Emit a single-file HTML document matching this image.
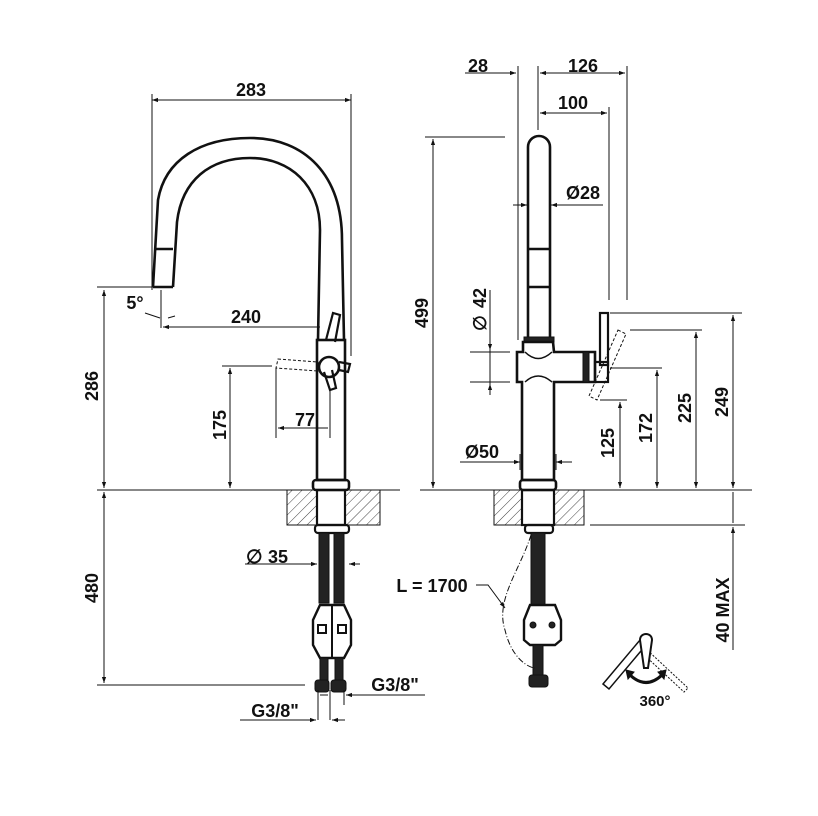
<!DOCTYPE html>
<html><head><meta charset="utf-8"><style>
html,body{margin:0;padding:0;background:#fff}
svg{display:block}
text{font-family:"Liberation Sans",Arial,sans-serif;font-weight:bold;fill:#111}
</style></head><body>
<svg width="818" height="816" viewBox="0 0 818 816" xmlns="http://www.w3.org/2000/svg">
<defs>
<marker id="a" viewBox="0 0 10 10" refX="10" refY="5" markerWidth="9" markerHeight="6" orient="auto-start-reverse"><path d="M0,1.5 L10,5 L0,8.5 z" fill="#111"/></marker>
<pattern id="h" width="7" height="7" patternUnits="userSpaceOnUse" patternTransform="rotate(45)"><line x1="0" y1="0" x2="0" y2="7" stroke="#111" stroke-width="0.8"/></pattern>
</defs>
<g stroke="#111" fill="none" stroke-width="1">
<!-- ===== LEFT VIEW ===== -->
<line x1="152" y1="94" x2="152" y2="290"/>
<line x1="351" y1="94" x2="351" y2="356"/>
<line x1="152" y1="100" x2="351" y2="100" marker-start="url(#a)" marker-end="url(#a)"/>
<path d="M153,287 L158,200 C165,160 200,138 250,138 C305,138 342,175 342,240 L344,340" stroke-width="2.6"/>
<path d="M173,287 L177,222 C182,180 210,158 250,158 C290,158 320,185 320,230 L318,340" stroke-width="2.6"/>
<line x1="155" y1="249" x2="173" y2="249" stroke-width="2.6"/>
<line x1="153" y1="287" x2="173" y2="287" stroke-width="2.6"/>
<rect x="317" y="340" width="28" height="140" stroke-width="2.6"/>
<rect x="313" y="480" width="36" height="10" rx="3" stroke-width="2.6"/>
<path d="M326,340 L333,313 L340,315 L335,342" stroke-width="2.2"/>
<circle cx="329" cy="367" r="10" stroke-width="2.6"/>
<path d="M324,372 L330,390 L336,388 L332,370" stroke-width="2.2"/>
<path d="M339,362 L350,364 L348,372 L339,370" stroke-width="2.2"/>
<path d="M278,359 L318,362 L318,371 L276,368 z" stroke-dasharray="3,2"/>
<line x1="97" y1="287" x2="160" y2="287"/>
<line x1="104" y1="290" x2="104" y2="488" marker-start="url(#a)" marker-end="url(#a)"/>
<line x1="161" y1="290" x2="161" y2="328"/>
<line x1="163" y1="327" x2="320" y2="327" marker-start="url(#a)"/>
<line x1="145" y1="313" x2="160" y2="318"/>
<line x1="175" y1="316" x2="168" y2="318"/>
<line x1="222" y1="366" x2="272" y2="366"/>
<line x1="230" y1="368" x2="230" y2="488" marker-start="url(#a)" marker-end="url(#a)"/>
<line x1="276" y1="368" x2="276" y2="438"/>
<line x1="330" y1="388" x2="330" y2="438"/>
<line x1="278" y1="428" x2="328" y2="428" marker-start="url(#a)"/>
<line x1="97" y1="490" x2="400" y2="490"/>
<rect x="287" y="490" width="30" height="35" fill="url(#h)"/>
<rect x="345" y="490" width="35" height="35" fill="url(#h)"/>
<rect x="317" y="490" width="28" height="35" stroke-width="2.2"/>
<rect x="315" y="525" width="34" height="8" rx="3" stroke-width="2.2"/>
<rect x="319" y="533" width="10" height="70" fill="#222"/>
<rect x="334" y="533" width="10" height="70" fill="#222"/>
<path d="M320,605 L344,605 L351,620 L351,645 L344,658 L320,658 L313,645 L313,620 z" stroke-width="2.4" fill="#fff"/>
<line x1="332" y1="605" x2="332" y2="658" stroke-width="2"/>
<rect x="318" y="625" width="8" height="8" stroke-width="2"/>
<rect x="338" y="625" width="8" height="8" stroke-width="2"/>
<rect x="320" y="658" width="8" height="22" fill="#222"/>
<rect x="335" y="658" width="8" height="22" fill="#222"/>
<rect x="315" y="680" width="14" height="12" rx="3" fill="#222"/>
<rect x="331" y="680" width="15" height="12" rx="3" fill="#222"/>
<line x1="245" y1="564" x2="317" y2="564" marker-end="url(#a)"/>
<line x1="360" y1="564" x2="349" y2="564" marker-end="url(#a)"/>
<line x1="97" y1="685" x2="305" y2="685"/>
<line x1="104" y1="492" x2="104" y2="683" marker-start="url(#a)" marker-end="url(#a)"/>
<line x1="318" y1="690" x2="318" y2="720"/><line x1="330" y1="690" x2="330" y2="720"/><line x1="344" y1="690" x2="344" y2="705"/>
<line x1="360" y1="695" x2="346" y2="695" marker-end="url(#a)"/>
<line x1="360" y1="695" x2="425" y2="695"/>
<line x1="320" y1="695" x2="328" y2="695"/>
<line x1="240" y1="720" x2="316" y2="720" marker-end="url(#a)"/>
<line x1="345" y1="720" x2="332" y2="720" marker-end="url(#a)"/>
<!-- ===== RIGHT VIEW ===== -->
<line x1="518" y1="66" x2="518" y2="340"/>
<line x1="538" y1="66" x2="538" y2="130"/>
<line x1="609" y1="107" x2="609" y2="300"/>
<line x1="627" y1="66" x2="627" y2="300"/>
<line x1="465" y1="73" x2="516" y2="73" marker-end="url(#a)"/>
<line x1="540" y1="73" x2="625" y2="73" marker-start="url(#a)" marker-end="url(#a)"/>
<line x1="540" y1="113" x2="607" y2="113" marker-start="url(#a)" marker-end="url(#a)"/>
<path d="M528,337 L528,147 A11,11 0 0 1 550,147 L550,337" stroke-width="2.6"/>
<line x1="528" y1="249" x2="550" y2="249" stroke-width="2.6"/>
<line x1="528" y1="287" x2="550" y2="287" stroke-width="2.6"/>
<rect x="524" y="337" width="30" height="5" fill="#222"/>
<line x1="513" y1="205" x2="527" y2="205" marker-end="url(#a)"/>
<line x1="565" y1="205" x2="551" y2="205" marker-end="url(#a)"/>
<line x1="565" y1="205" x2="603" y2="205"/>
<path d="M523,342 L553,342 L554,352 L595,352 L595,382 L554,382 L554,480 L522,480 L522,382 L517,382 L517,352 L523,352 z" stroke-width="2.6" fill="#fff"/>
<path d="M525,352 Q538,365 552,352 M525,382 Q538,370 552,382" stroke-width="1.5"/>
<rect x="583" y="352" width="6" height="30" fill="#222"/>
<rect x="600" y="313" width="8" height="52" stroke-width="2.2"/>
<rect x="595" y="362" width="13" height="20" stroke-width="2.2"/>
<path d="M618,330 L626,334 L597,400 L589,396 z" stroke-dasharray="3,2"/>
<line x1="470" y1="352" x2="510" y2="352"/><line x1="470" y1="382" x2="510" y2="382"/>
<line x1="490" y1="290" x2="490" y2="350" marker-end="url(#a)"/>
<line x1="490" y1="395" x2="490" y2="384" marker-end="url(#a)"/>
<line x1="490" y1="384" x2="490" y2="350"/>
<line x1="425" y1="137" x2="505" y2="137"/>
<line x1="433" y1="139" x2="433" y2="488" marker-start="url(#a)" marker-end="url(#a)"/>
<line x1="460" y1="462" x2="520" y2="462" marker-end="url(#a)"/>
<line x1="572" y1="462" x2="556" y2="462" marker-end="url(#a)"/>
<line x1="520" y1="454" x2="520" y2="470"/><line x1="556" y1="454" x2="556" y2="470"/>
<line x1="610" y1="313" x2="742" y2="313"/>
<line x1="630" y1="330" x2="702" y2="330"/>
<line x1="610" y1="368" x2="662" y2="368"/>
<line x1="600" y1="400" x2="627" y2="400"/>
<line x1="620" y1="402" x2="620" y2="488" marker-start="url(#a)" marker-end="url(#a)"/>
<line x1="657" y1="370" x2="657" y2="488" marker-start="url(#a)" marker-end="url(#a)"/>
<line x1="696" y1="332" x2="696" y2="488" marker-start="url(#a)" marker-end="url(#a)"/>
<line x1="733" y1="315" x2="733" y2="488" marker-start="url(#a)" marker-end="url(#a)"/>
<line x1="420" y1="490" x2="752" y2="490"/>
<line x1="590" y1="525" x2="745" y2="525"/>
<line x1="733" y1="492" x2="733" y2="523"/>
<line x1="733" y1="650" x2="733" y2="527" marker-end="url(#a)"/>
<rect x="494" y="490" width="28" height="35" fill="url(#h)"/>
<rect x="554" y="490" width="30" height="35" fill="url(#h)"/>
<rect x="522" y="490" width="32" height="35" stroke-width="2.2"/>
<rect x="520" y="480" width="36" height="10" rx="3" stroke-width="2.6"/>
<rect x="525" y="525" width="28" height="8" rx="3" stroke-width="2.2"/>
<rect x="531" y="533" width="14" height="72" fill="#222"/>
<path d="M530,605 L555,605 L561,620 L561,640 L555,645 L530,645 L524,640 L524,620 z" stroke-width="2.4" fill="#fff"/>
<circle cx="533" cy="625" r="3" fill="#222"/><circle cx="552" cy="625" r="3" fill="#222"/>
<rect x="533" y="645" width="10" height="30" fill="#222"/>
<rect x="529" y="675" width="19" height="12" rx="3" fill="#222"/>
<path d="M531,535 C520,570 495,600 505,630 C512,660 530,668 535,668" stroke-dasharray="6,2,1,2"/>
<path d="M476,585 L488,585 L505,608" marker-end="url(#a)"/>
<path d="M603,684 L640,640 L646,645 L609,689 Z" stroke-width="1.5"/>
<path d="M645,648 L688,688 L684,692 L641,652 Z" stroke-dasharray="2,1.5"/>
<path d="M640,640 C640,632 652,632 652,640 L648,668 L644,668 Z" stroke-width="2" fill="#fff"/>
<path d="M630,675 Q646,690 662,675" stroke-width="3"/>
<path d="M626,670 L634,672 L628,679 z M666,670 L658,672 L664,679 z" fill="#111"/>
</g>
<g font-size="18">
<text x="251" y="96" text-anchor="middle">283</text>
<text x="246" y="323" text-anchor="middle">240</text>
<text x="135" y="309" text-anchor="middle">5°</text>
<text x="305" y="426" text-anchor="middle">77</text>
<text transform="translate(98,386) rotate(-90)" text-anchor="middle">286</text>
<text transform="translate(236,425) rotate(-90)" text-anchor="middle" dy="-10">175</text>
<text transform="translate(98,588) rotate(-90)" text-anchor="middle">480</text>
<text x="268" y="563">35</text>
<text x="246" y="563" font-weight="normal" font-size="19">∅</text>
<text x="395" y="691" text-anchor="middle">G3/8"</text>
<text x="275" y="717" text-anchor="middle">G3/8"</text>
<text x="478" y="72" text-anchor="middle">28</text>
<text x="583" y="72" text-anchor="middle">126</text>
<text x="573" y="109" text-anchor="middle">100</text>
<text x="583" y="199" text-anchor="middle">Ø28</text>
<text transform="translate(428,313) rotate(-90)" text-anchor="middle">499</text>
<text transform="translate(486,298) rotate(-90)" text-anchor="middle">42</text>
<text transform="translate(486,323) rotate(-90)" text-anchor="middle" font-weight="normal">∅</text>
<text x="482" y="458" text-anchor="middle">Ø50</text>
<text transform="translate(614,443) rotate(-90)" text-anchor="middle">125</text>
<text transform="translate(652,428) rotate(-90)" text-anchor="middle">172</text>
<text transform="translate(691,408) rotate(-90)" text-anchor="middle">225</text>
<text transform="translate(728,402) rotate(-90)" text-anchor="middle">249</text>
<text transform="translate(729,610) rotate(-90)" text-anchor="middle">40 MAX</text>
<text x="432" y="592" text-anchor="middle">L = 1700</text>
<text x="655" y="706" text-anchor="middle" font-size="15">360°</text>
</g>
</svg>
</body></html>
